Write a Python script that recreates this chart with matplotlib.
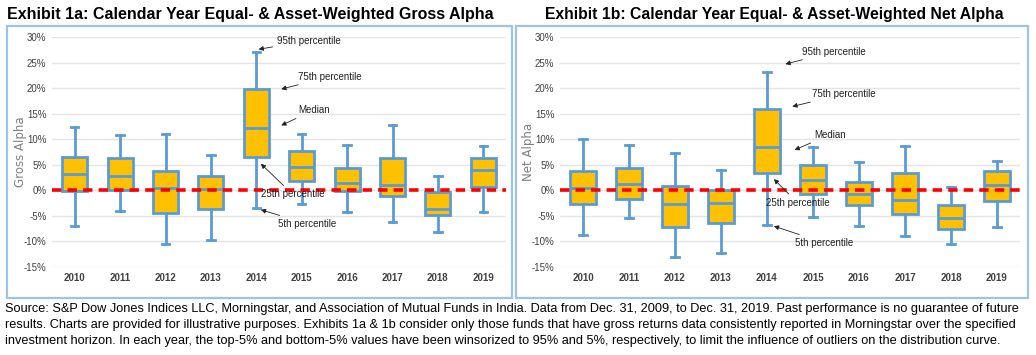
import matplotlib.pyplot as plt
from matplotlib.patches import Rectangle
from matplotlib.ticker import PercentFormatter

plt.rcParams["axes.unicode_minus"] = False

# data (percent)
years = ["2010", "2011", "2012", "2013", "2014", "2015", "2016", "2017", "2018", "2019"]

gross_p95 = [12.4, 10.8, 11.0, 6.9, 27.1, 11.0, 8.8, 12.8, 2.9, 8.7]
gross_p75 = [6.5, 6.3, 3.7, 2.9, 19.8, 7.7, 4.3, 6.4, -0.4, 6.4]
gross_med = [3.2, 2.9, 0.5, 0.2, 12.2, 4.5, 1.4, 1.0, -3.6, 3.9]
gross_p25 = [-0.1, 0.0, -4.4, -3.6, 6.5, 1.8, -0.2, -1.2, -4.8, 0.7]
gross_p5 = [-6.9, -4.1, -10.5, -9.7, -3.5, -2.7, -4.3, -6.1, -8.2, -4.2]

net_p95 = [10.0, 8.8, 7.3, 4.0, 23.2, 8.4, 5.6, 8.6, 0.7, 5.8]
net_p75 = [3.7, 4.4, 0.9, 0.1, 15.9, 5.0, 1.7, 3.3, -2.9, 3.7]
net_med = [0.5, 1.2, -2.7, -2.5, 8.4, 2.1, -0.8, -1.8, -5.4, 1.0]
net_p25 = [-2.7, -1.6, -7.2, -6.3, 3.4, -0.7, -2.9, -4.6, -7.6, -2.1]
net_p5 = [-8.8, -5.5, -13.0, -12.2, -6.8, -5.2, -6.9, -9.0, -10.5, -7.1]

SMALL_FONT = "Liberation Sans"
GOLD = "#FFC000"
BLUE = "#5B9BD5"


def draw_panel(ax, p5, p25, med, p75, p95, ylabel, notes):
    stats = []
    for i in range(len(years)):
        stats.append({"whislo": p5[i], "q1": p25[i], "med": med[i],
                      "q3": p75[i], "whishi": p95[i], "label": years[i]})
    ax.bxp(stats, positions=range(len(years)), widths=0.55, showfliers=False,
           patch_artist=True,
           boxprops=dict(facecolor=GOLD, edgecolor=BLUE, linewidth=2),
           medianprops=dict(color=BLUE, linewidth=2),
           whiskerprops=dict(color=BLUE, linewidth=2),
           capprops=dict(color=BLUE, linewidth=2), capwidths=0.16,
           zorder=3)
    ax.axhline(0, color="#FF0000", linestyle=(0, (2.6, 1.7)), linewidth=2.6, zorder=4)

    ax.set_xlim(-0.5, len(years) - 0.5)
    ax.set_ylim(-15, 30)
    ax.set_yticks(range(-15, 31, 5))
    ax.yaxis.set_major_formatter(PercentFormatter(decimals=0))
    ax.grid(axis="y", color="#E4E4E4", linewidth=1, zorder=0)
    for s in ax.spines.values():
        s.set_visible(False)
    ax.tick_params(length=0, labelsize=7, colors="#404040", pad=4)
    for lab in ax.get_xticklabels() + ax.get_yticklabels():
        lab.set_fontfamily(SMALL_FONT)
    for lab in ax.get_xticklabels():
        lab.set_fontweight("bold")
    ax.set_ylabel(ylabel, color="#7F7F7F", fontsize=8.5)
    ax.yaxis.set_label_coords(-0.055, 0.5)

    i = years.index("2014")
    targets = {"95": p95[i], "75": p75[i], "med": med[i], "25": p25[i], "5": p5[i]}
    for key, text, dx, dy, off_x, off_y in notes:
        ax.annotate(text, xy=(i + dx, targets[key] + dy), xytext=(off_x, off_y),
                    textcoords="offset points", fontsize=7, family=SMALL_FONT,
                    color="#202020", va="center", ha="left",
                    arrowprops=dict(arrowstyle="-|>", color="#202020", lw=0.6,
                                    mutation_scale=7, shrinkA=1, shrinkB=0),
                    zorder=5)


fig = plt.figure(figsize=(10.36, 3.55), dpi=100)

# panel borders
for x0, w in [(7, 505), (516, 512)]:
    fig.patches.append(Rectangle((x0 / 1036, 1 - 298 / 355), w / 1036, 272 / 355,
                                 transform=fig.transFigure, fill=False,
                                 edgecolor="#9DC3E6", linewidth=1.6))

ax1 = fig.add_axes([52 / 1036, 1 - 267 / 355, 454 / 1036, 230 / 355])
ax2 = fig.add_axes([560 / 1036, 1 - 267 / 355, 460 / 1036, 230 / 355])

notes_gross = [
    ("95", "95th percentile", 0.05, 0.5, 13, 6),
    ("75", "75th percentile", 0.55, 0.0, 12, 9),
    ("med", "Median", 0.55, 0.5, 12, 11),
    ("25", "25th percentile", 0.1, -1.3, 0, -22),
    ("5", "5th percentile", 0.1, -0.3, 12, -10),
]
notes_net = [
    ("95", "95th percentile", 0.4, 1.5, 12, 9),
    ("75", "75th percentile", 0.55, 0.5, 14, 9),
    ("med", "Median", 0.6, -0.5, 14, 11),
    ("25", "25th percentile", 0.15, -1.2, -6, -17),
    ("5", "5th percentile", 0.15, -0.2, 15, -12),
]

draw_panel(ax1, gross_p5, gross_p25, gross_med, gross_p75, gross_p95, "Gross Alpha", notes_gross)
draw_panel(ax2, net_p5, net_p25, net_med, net_p75, net_p95, "Net Alpha", notes_net)

fig.text(7 / 1036, 1 - 14 / 355, "Exhibit 1a: Calendar Year Equal- & Asset-Weighted Gross Alpha",
         fontsize=11.5, fontweight="bold", family="Liberation Sans", va="center", ha="left")
fig.text(545 / 1036, 1 - 14 / 355, "Exhibit 1b: Calendar Year Equal- & Asset-Weighted Net Alpha",
         fontsize=11.3, fontweight="bold", family="Liberation Sans", va="center", ha="left")

footer = ("Source: S&P Dow Jones Indices LLC, Morningstar, and Association of Mutual Funds in India. "
          "Data from Dec. 31, 2009, to Dec. 31, 2019. Past performance is no guarantee of future\n"
          "results. Charts are provided for illustrative purposes. Exhibits 1a & 1b consider only those "
          "funds that have gross returns data consistently reported in Morningstar over the specified\n"
          "investment horizon. In each year, the top-5% and bottom-5% values have been winsorized to "
          "95% and 5%, respectively, to limit the influence of outliers on the distribution curve.")
fig.text(5 / 1036, 1 - 303 / 355, footer, fontsize=9.2, family="Liberation Sans",
         va="top", ha="left", linespacing=1.45)

fig.savefig("out.png", dpi=100)
